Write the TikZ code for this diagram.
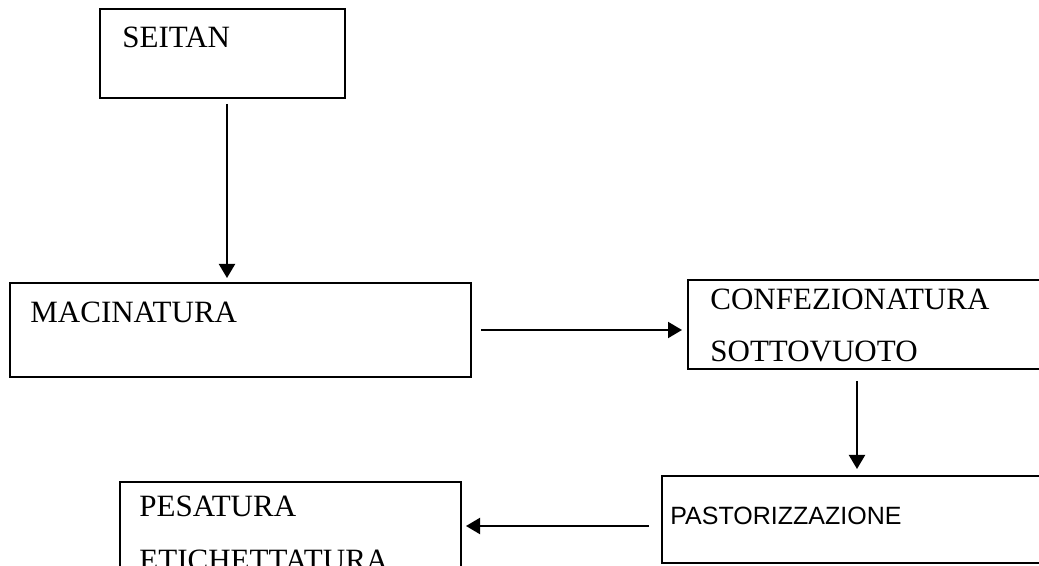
\documentclass[tikz,border=0pt]{standalone}
\usepackage{fontspec}
\setmainfont{Liberation Serif}
\newfontfamily\sansfont{Liberation Sans}
\usetikzlibrary{arrows.meta}

\tikzset{
  box/.style={draw, line width=1pt, inner sep=0pt},
  lbl/.style={anchor=base west, inner sep=0pt, align=left, font=\fontsize{15.5}{26}\selectfont},
  arr/.style={line width=1pt, -{Triangle[length=7pt,width=8pt]}}
}

\begin{document}
\begin{tikzpicture}[x=0.5pt,y=-0.5pt]
        \useasboundingbox (0,0) rectangle (1039,566);
        \clip (0,0) rectangle (1039,566);

        % boxes
        \node[box, minimum width=122.5pt, minimum height=44.5pt] (seitan) at (222.5,53.5) {};
        \node[box, minimum width=230.5pt, minimum height=47pt] (macinatura) at (240.5,330) {};
        \node[box, minimum width=186pt, minimum height=44.5pt] (confezionatura) at (874,324.5) {};
        \node[box, minimum width=199pt, minimum height=43.5pt] (pastorizzazione) at (861,519.5) {};
        \node[box, minimum width=170.5pt, minimum height=54pt] (pesatura) at (290.5,536) {};

        % texts (multi-line: base = last line)
        \node[lbl] (tseitan) at (122,48) {SEITAN};
        \node[lbl] (tmacinatura) at (30,323) {MACINATURA};
        \begin{scope}
            \clip (688,280) rectangle (1039,362);
            \node[lbl] (tconfezionatura) at (710,362) {CONFEZIONATURA\\SOTTOVUOTO};
        \end{scope}
        \node[lbl, font=\sansfont\fontsize{12.5}{15}\selectfont] (tpastorizzazione) at (670,524) {PASTORIZZAZIONE};
        \node[lbl, font=\fontsize{15.5}{27}\selectfont] (tpesatura) at (139,570) {PESATURA\\ETICHETTATURA};

        % arrows
        \draw[arr, shorten <=2.5pt, shorten >=2pt] ([xshift=2.25pt]seitan.south) -- ([xshift=2.25pt]seitan.south |- macinatura.north);
        \draw[arr, shorten <=4.5pt, shorten >=2.5pt] (macinatura.east) -- (macinatura.east -| confezionatura.west);
        \draw[arr, shorten <=5.5pt, shorten >=3pt] ([xshift=-8.5pt]confezionatura.south) -- ([xshift=-8.5pt]confezionatura.south |- pastorizzazione.north);
        \draw[arr, shorten <=6pt, shorten >=2pt] ([yshift=-3.25pt]pastorizzazione.west) -- ([yshift=-3.25pt]pastorizzazione.west -| pesatura.east);
    \end{tikzpicture}
\end{document}
